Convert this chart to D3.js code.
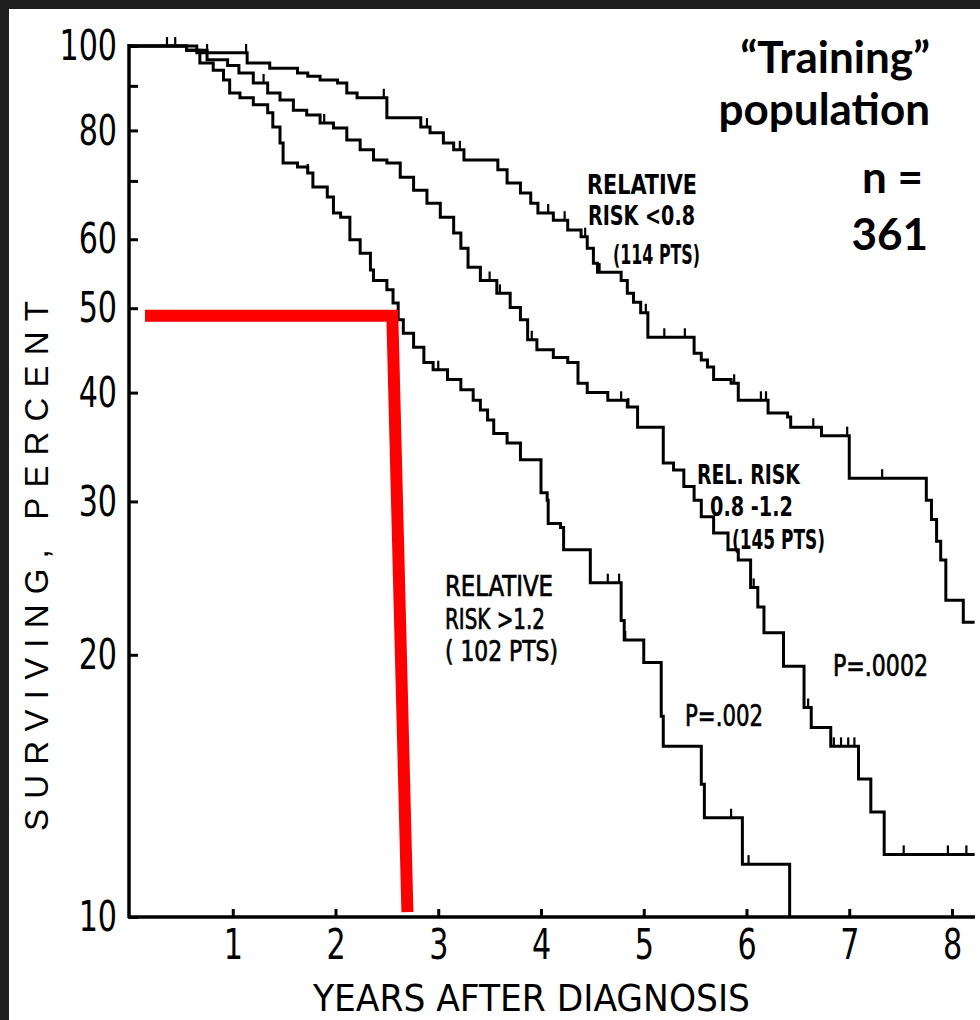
<!DOCTYPE html>
<html>
<head>
<meta charset="utf-8">
<script src="https://cdn.jsdelivr.net/npm/d3@7"></script>
<style>
  body { margin: 0; background: #1e1e1e; }
  .canvas { width: 980px; height: 1020px; }
</style>
</head>
<body>
<div class="canvas"></div>
<script>
// survival curves, [years, percent surviving]
var lowRisk = [
  [0, 100], [0.65, 98.2], [1.14, 95.6], [1.36, 94.3], [1.63, 93.1], [1.73, 92.3],
  [1.85, 91.4], [2.02, 90.7], [2.11, 88.3], [2.21, 87.2], [2.50, 82.7], [2.83, 80.7],
  [2.92, 79.5], [3.05, 77.4], [3.15, 76.0], [3.25, 74.0], [3.58, 72.1], [3.67, 69.6],
  [3.80, 67.8], [3.90, 66.0], [3.97, 64.3], [4.12, 63.1], [4.26, 61.5], [4.39, 60.4],
  [4.45, 58.6], [4.51, 56.3], [4.55, 55.0], [4.78, 53.8], [4.84, 52.0], [4.90, 50.8],
  [4.97, 49.4], [5.04, 46.3], [5.49, 44.4], [5.56, 43.6], [5.62, 42.8], [5.68, 41.4],
  [5.85, 41.0], [5.92, 39.2], [6.21, 37.9], [6.40, 37.5], [6.43, 36.5], [6.73, 35.7],
  [7.00, 31.9], [7.75, 30.1], [7.80, 28.6], [7.85, 27.0], [7.89, 25.7], [7.94, 23.1],
  [8.11, 21.8], [8.22, 21.8]
];
var midRisk = [
  [0, 100], [0.55, 98.9], [0.75, 96.4], [0.95, 95.0], [1.06, 93.1], [1.20, 90.7],
  [1.34, 88.3], [1.46, 86.7], [1.59, 84.4], [1.72, 83.3], [1.85, 81.6], [1.98, 80.5],
  [2.11, 78.0], [2.24, 76.0], [2.37, 74.0], [2.50, 73.4], [2.63, 70.7], [2.76, 68.3],
  [2.89, 66.0], [3.02, 63.6], [3.15, 61.0], [3.22, 58.6], [3.29, 55.7], [3.41, 53.8],
  [3.57, 52.0], [3.70, 50.1], [3.80, 48.5], [3.87, 46.0], [3.96, 44.8], [4.12, 43.9],
  [4.26, 43.3], [4.36, 41.0], [4.45, 40.0], [4.65, 39.2], [4.84, 38.5], [4.94, 36.5],
  [5.19, 33.2], [5.29, 32.6], [5.39, 31.2], [5.49, 30.1], [5.56, 28.8], [5.68, 27.6],
  [5.82, 26.4], [5.92, 25.7], [6.04, 23.9], [6.11, 22.7], [6.17, 21.2], [6.36, 19.4],
  [6.56, 17.4], [6.63, 16.5], [6.82, 15.7], [7.09, 14.4], [7.21, 13.2], [7.34, 11.8],
  [8.22, 11.8]
];
var highRisk = [
  [0, 100], [0.55, 98.9], [0.68, 95.6], [0.81, 93.8], [0.91, 91.4], [0.97, 88.3],
  [1.07, 87.2], [1.20, 85.6], [1.34, 83.8], [1.39, 80.7], [1.46, 77.4], [1.49, 73.4],
  [1.63, 72.6], [1.73, 71.5], [1.78, 68.9], [1.92, 67.1], [1.98, 64.3], [2.05, 63.6],
  [2.14, 59.9], [2.24, 57.8], [2.34, 55.3], [2.37, 53.8], [2.50, 52.5], [2.56, 50.7],
  [2.61, 48.5], [2.66, 46.8], [2.76, 45.1], [2.86, 43.3], [2.95, 42.5], [3.09, 41.4],
  [3.22, 40.3], [3.34, 39.2], [3.41, 38.2], [3.48, 37.2], [3.54, 35.9], [3.67, 35.0],
  [3.80, 33.5], [4.00, 30.7], [4.06, 30.1], [4.07, 28.3], [4.19, 28.0], [4.22, 26.4],
  [4.48, 24.2], [4.78, 21.9], [4.81, 20.8], [5.00, 19.6], [5.17, 17.0], [5.19, 15.7],
  [5.56, 14.2], [5.59, 13.0], [5.96, 11.5], [6.42, 10]
];

// censored patients (years)
var lowCensor = [0.36, 0.44, 0.75, 1.13, 2.47, 2.89, 3.21, 4.07, 4.23, 4.43, 4.57, 5.02,
  5.20, 5.40, 5.88, 6.14, 6.19, 6.65, 6.98, 7.32];
var midCensor = [1.30, 1.89, 3.50, 3.60, 3.91, 4.78, 4.85, 6.07, 6.60, 6.85, 6.92, 6.99,
  7.05, 7.53, 7.96, 8.14];
var highCensor = [1.73, 3.00, 4.65, 4.76, 4.82, 5.85, 6.02];

// red median marker
var medianLine = [[0.146, 49.0], [2.553, 49.0], [2.70, 10.13]];

var yearTicks = [1, 2, 3, 4, 5, 6, 7, 8];
var pctTicks = [10, 20, 30, 40, 50, 60, 70, 80, 90, 100];
var pctLabels = [10, 20, 30, 40, 50, 60, 80, 100];

(function kmplot() {
  var width = 980;
  var height = 1020;
  var narrow = "'Liberation Sans Narrow', 'DejaVu Sans Condensed', sans-serif";
  var squeeze = 0.78;

  var svg = d3.select(".canvas")
    .append("svg")
    .attr("width", width)
    .attr("height", height);

  svg.append("rect").attr("width", width).attr("height", height).attr("fill", "#1e1e1e");
  svg.append("rect").attr("x", 9).attr("y", 9)
    .attr("width", width - 9).attr("height", height - 9).attr("fill", "#fff");

  var x = d3.scaleLinear().domain([0, 8]).range([130, 952]);
  var y = d3.scaleLog().domain([10, 100]).range([917, 46]);

  // axes
  var yAxis = d3.axisLeft(y)
    .tickValues(pctTicks)
    .tickSizeInner(-9)
    .tickSizeOuter(0)
    .tickPadding(12)
    .tickFormat(function(d) { return pctLabels.indexOf(d) >= 0 ? d : ""; });

  var xAxis = d3.axisBottom(x)
    .tickValues(yearTicks)
    .tickSizeInner(-8)
    .tickSizeOuter(0)
    .tickPadding(11)
    .tickFormat(d3.format("d"));

  var gy = svg.append("g").attr("transform", "translate(129,0)").call(yAxis);
  var gx = svg.append("g").attr("transform", "translate(0,917)").call(xAxis);

  gx.select(".domain").attr("d", "M128,0H975");
  gy.select(".domain").attr("d", "M0,44V918");

  [gx, gy].forEach(function(g) {
    g.selectAll(".domain").attr("stroke", "#000").attr("stroke-width", 3.5);
    g.selectAll(".tick line").attr("stroke", "#000").attr("stroke-width", 3);
    g.selectAll(".tick text")
      .attr("fill", "#000")
      .attr("transform", "scale(" + squeeze + ",1)")
      .style("font-family", narrow)
      .style("font-size", "43px");
  });
  gy.selectAll(".tick text").attr("x", -12 / squeeze);

  // curves
  var line = d3.line()
    .x(function(d) { return x(d[0]); })
    .y(function(d) { return y(d[1]); })
    .curve(d3.curveStepAfter);

  var groups = [
    { curve: lowRisk, censor: lowCensor },
    { curve: midRisk, censor: midCensor },
    { curve: highRisk, censor: highCensor }
  ];

  var bisect = d3.bisector(function(d) { return d[0]; }).right;

  groups.forEach(function(g) {
    svg.append("path")
      .datum(g.curve)
      .attr("d", line)
      .attr("fill", "none")
      .attr("stroke", "#000")
      .attr("stroke-width", 3);

    svg.selectAll(null)
      .data(g.censor)
      .enter()
      .append("line")
      .attr("x1", function(d) { return x(d); })
      .attr("x2", function(d) { return x(d); })
      .attr("y1", function(d) { return y(g.curve[bisect(g.curve, d) - 1][1]); })
      .attr("y2", function(d) { return y(g.curve[bisect(g.curve, d) - 1][1]) - 9; })
      .attr("stroke", "#000")
      .attr("stroke-width", 2.2);
  });

  // red median lines
  svg.append("path")
    .datum(medianLine)
    .attr("d", d3.line()
      .x(function(d) { return x(d[0]); })
      .y(function(d) { return y(d[1]); }))
    .attr("fill", "none")
    .attr("stroke", "#ff0000")
    .attr("stroke-width", 12)
    .attr("stroke-linejoin", "miter");

  // axis titles
  svg.append("text")
    .attr("x", 313).attr("y", 1011)
    .attr("textLength", 437)
    .attr("lengthAdjust", "spacingAndGlyphs")
    .style("font-family", narrow)
    .style("font-size", "38px")
    .text("YEARS AFTER DIAGNOSIS");

  svg.append("text")
    .attr("transform", "translate(48,566) rotate(-90)")
    .attr("text-anchor", "middle")
    .attr("textLength", 530)
    .attr("lengthAdjust", "spacing")
    .style("font-family", "'Liberation Sans', sans-serif")
    .style("font-size", "33px")
    .text("SURVIVING, PERCENT");

  // curve annotations
  var notes = [
    { t: "RELATIVE", x: 587, y: 194, w: 110, s: 26, b: "bold" },
    { t: "RISK <0.8", x: 588, y: 225, w: 107, s: 26, b: "bold" },
    { t: "(114 PTS)", x: 613, y: 264, w: 87, s: 26, b: "bold" },
    { t: "REL. RISK", x: 697, y: 484, w: 103, s: 27, b: "bold" },
    { t: "0.8 -1.2", x: 710, y: 516, w: 83, s: 27, b: "bold" },
    { t: "(145 PTS)", x: 732, y: 549, w: 93, s: 27, b: "bold" },
    { t: "RELATIVE", x: 445, y: 596, w: 108, s: 29, b: "normal" },
    { t: "RISK >1.2", x: 445, y: 629, w: 100, s: 29, b: "normal" },
    { t: "( 102 PTS)", x: 445, y: 661, w: 113, s: 29, b: "normal" },
    { t: "P=.002", x: 685, y: 726, w: 78, s: 30, b: "normal" },
    { t: "P=.0002", x: 833, y: 676, w: 95, s: 30, b: "normal" }
  ];

  svg.selectAll(".note")
    .data(notes)
    .enter()
    .append("text")
    .attr("class", "note")
    .attr("x", function(d) { return d.x; })
    .attr("y", function(d) { return d.y; })
    .attr("textLength", function(d) { return d.w; })
    .attr("lengthAdjust", "spacingAndGlyphs")
    .attr("stroke", function(d) { return d.b === "normal" ? "#000" : "none"; })
    .attr("stroke-width", 0.7)
    .style("font-family", narrow)
    .style("font-size", function(d) { return d.s + "px"; })
    .style("font-weight", function(d) { return d.b; })
    .text(function(d) { return d.t; });

  // slide heading
  var heading = [
    { t: "\u201CTraining\u201D", x: 930, y: 73 },
    { t: "population", x: 930, y: 125 },
    { t: "n =", x: 923, y: 193 },
    { t: "361", x: 928, y: 250 }
  ];

  svg.selectAll(".heading")
    .data(heading)
    .enter()
    .append("text")
    .attr("class", "heading")
    .attr("x", function(d) { return d.x; })
    .attr("y", function(d) { return d.y; })
    .attr("text-anchor", "end")
    .style("font-family", "Lato, 'Open Sans', sans-serif")
    .style("font-weight", "bold")
    .style("font-size", "44px")
    .text(function(d) { return d.t; });
})();
</script>
</body>
</html>
